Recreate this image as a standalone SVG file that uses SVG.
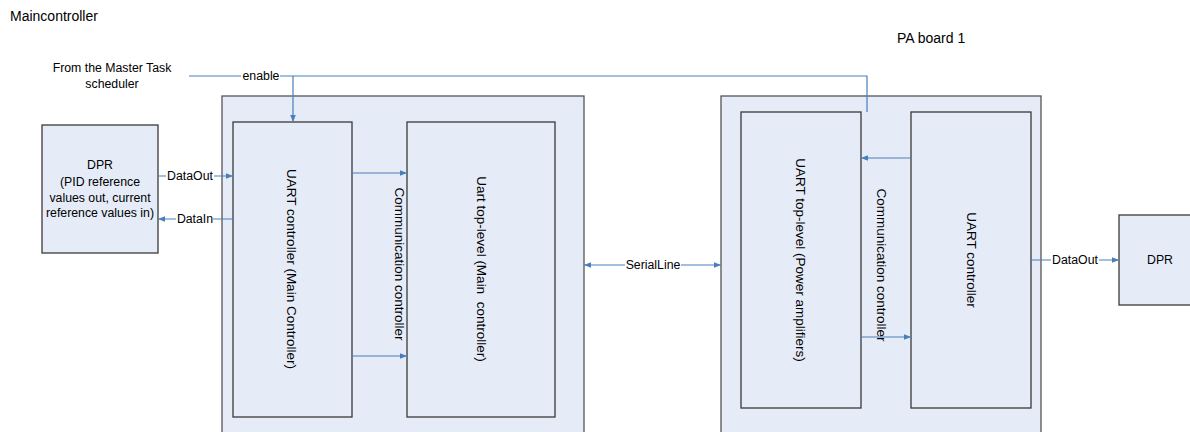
<svg xmlns="http://www.w3.org/2000/svg" width="1190" height="432" viewBox="0 0 1190 432">
<defs>
<style>
.box{fill:#E6ECF7;stroke:#3a3a3a;stroke-width:1.3}
.outer{fill:#E6ECF7;stroke:#555555;stroke-width:1.3}
.t{font-family:"Liberation Sans",Arial,sans-serif;font-size:12.3px;fill:#000}
.title{font-family:"Liberation Sans",Arial,sans-serif;font-size:14px;fill:#000}
.v{font-family:"Liberation Sans",Arial,sans-serif;font-size:13.5px;fill:#000;text-anchor:middle;dominant-baseline:central;white-space:pre}
.c{stroke:#4A7EBB;stroke-width:1.2;fill:none}
.lb{fill:#ffffff}
</style>
<marker id="ah" viewBox="0 0 10 10" refX="10" refY="5" markerWidth="7" markerHeight="7" markerUnits="userSpaceOnUse" orient="auto-start-reverse">
<path d="M0,1 L10,5 L0,9 z" fill="#4A7EBB"/>
</marker>
</defs>
<rect width="1190" height="432" fill="#ffffff"/>
<text class="title" x="10" y="21">Maincontroller</text>
<text class="title" x="897" y="43">PA board 1</text>
<g id="scheduler">
<text class="t" x="112" y="72" text-anchor="middle">From the Master Task</text>
<text class="t" x="112" y="88" text-anchor="middle">scheduler</text>
</g>
<g id="main-board">
<rect class="outer" x="222" y="96" width="362" height="345"/>
<text class="v" transform="translate(399,264) rotate(90)">Communication controller</text>
</g>
<g id="pa-board">
<rect class="outer" x="721" y="96" width="320" height="345"/>
<text class="v" transform="translate(881,265) rotate(90)">Communication controller</text>
</g>
<g id="dpr-left">
<rect class="box" x="42" y="125" width="116" height="128"/>
<text class="t" x="100" y="169" text-anchor="middle">DPR</text>
<text class="t" x="100" y="186" text-anchor="middle">(PID reference</text>
<text class="t" x="100" y="202" text-anchor="middle">values out, current</text>
<text class="t" x="100" y="217" text-anchor="middle">reference values in)</text>
</g>
<g id="uart-main">
<rect class="box" x="233" y="122" width="119" height="295"/>
<text class="v" transform="translate(291,269) rotate(90)">UART controller (Main Controller)</text>
</g>
<g id="uart-top-main">
<rect class="box" x="407" y="122" width="148" height="295"/>
<text class="v" xml:space="preserve" transform="translate(481,269) rotate(90)">Uart top-level (Main  controller)</text>
</g>
<g id="uart-top-pa">
<rect class="box" x="741" y="112" width="120" height="296"/>
<text class="v" transform="translate(800,260) rotate(90)">UART top-level (Power amplifiers)</text>
</g>
<g id="uart-pa">
<rect class="box" x="911" y="112" width="120" height="296"/>
<text class="v" transform="translate(971,260) rotate(90)">UART controller</text>
</g>
<g id="dpr-right">
<rect class="box" x="1119" y="215" width="75" height="90"/>
<text class="t" x="1160" y="264" text-anchor="middle">DPR</text>
</g>
<g id="connectors">
<path class="c" d="M189,76 H867 V112"/>
<path class="c" d="M293,76 V122" marker-end="url(#ah)"/>
<rect class="lb" x="241" y="69" width="39" height="14"/>
<text class="t" x="261" y="80" text-anchor="middle">enable</text>
<path class="c" d="M158,176 H233" marker-end="url(#ah)"/>
<rect class="lb" x="166" y="169" width="48" height="14"/>
<text class="t" x="190" y="180" text-anchor="middle">DataOut</text>
<path class="c" d="M233,219 H158" marker-end="url(#ah)"/>
<rect class="lb" x="176" y="212" width="37" height="14"/>
<text class="t" x="195" y="223" text-anchor="middle">DataIn</text>
<path class="c" d="M352,173 H407" marker-end="url(#ah)"/>
<path class="c" d="M352,356 H407" marker-end="url(#ah)"/>
<path class="c" d="M584,265 H721" marker-start="url(#ah)" marker-end="url(#ah)"/>
<rect class="lb" x="625" y="258" width="56" height="14"/>
<text class="t" x="653" y="269" text-anchor="middle">SerialLine</text>
<path class="c" d="M911,158 H861" marker-end="url(#ah)"/>
<path class="c" d="M861,337 H911" marker-end="url(#ah)"/>
<path class="c" d="M1031,260 H1119" marker-end="url(#ah)"/>
<rect class="lb" x="1051" y="253" width="48" height="14"/>
<text class="t" x="1075" y="264" text-anchor="middle">DataOut</text>
</g>
</svg>
